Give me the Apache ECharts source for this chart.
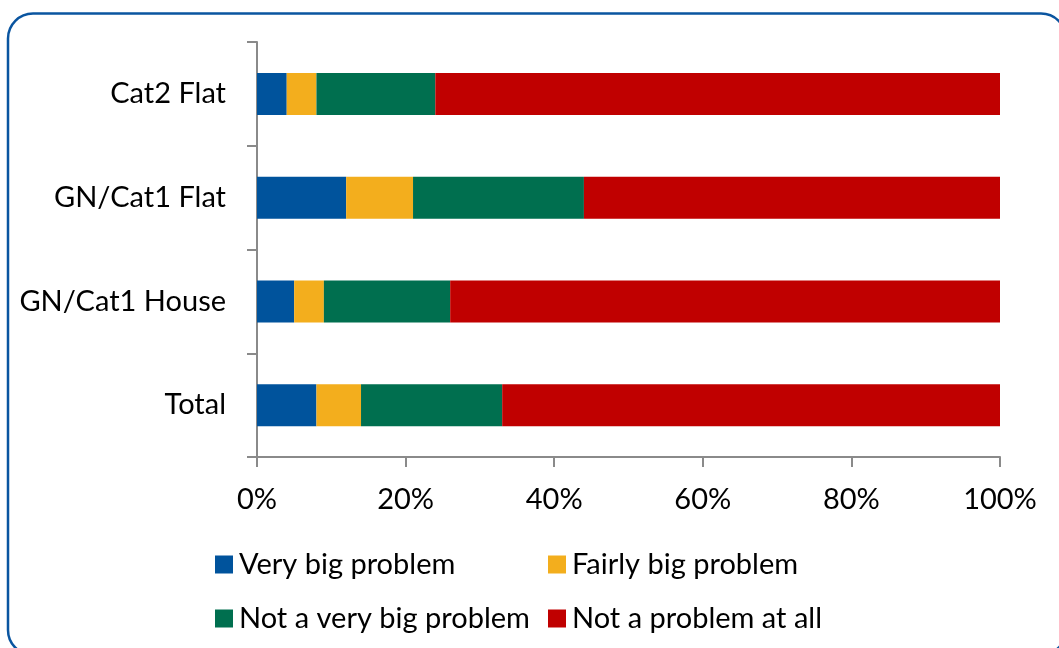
<!DOCTYPE html>
<html>
<head>
<meta charset="utf-8">
<script src="https://cdn.jsdelivr.net/npm/echarts@6/dist/echarts.min.js"></script>
<style>
  html, body { margin: 0; padding: 0; background: #ffffff; }
  #chart { width: 1059px; height: 648px; }
</style>
</head>
<body>
<div id="chart"></div>
<script>
// Survey responses, percent of each group (stacked to 100%)
const categories = ['Total', 'GN/Cat1 House', 'GN/Cat1 Flat', 'Cat2 Flat'];
const seriesNames = ['Very big problem', 'Fairly big problem', 'Not a very big problem', 'Not a problem at all'];
const veryBig = [8, 5, 12, 4];
const fairlyBig = [6, 4, 9, 4];
const notVeryBig = [19, 17, 23, 16];
const notAtAll = [67, 74, 56, 76];
const xTickLabels = ['0%', '20%', '40%', '60%', '80%', '100%'];

const colors = ['#00539C', '#F3AE1D', '#006F4F', '#C00000'];
const values = [veryBig, fairlyBig, notVeryBig, notAtAll];
const FONT = 'Lato';
const FS = 29;
const axisGray = '#8a8a8a';

const chart = echarts.init(document.getElementById('chart'), null, { renderer: 'canvas' });

// legend laid out as a 2 x 2 block
const legendPos = [
  { left: 215, top: 550 },
  { left: 548, top: 550 },
  { left: 215, top: 604 },
  { left: 548, top: 604 }
];

const option = {
  animation: false,
  backgroundColor: '#ffffff',
  textStyle: { fontFamily: FONT },
  graphic: [{
    type: 'rect',
    shape: { x: 8, y: 13.5, width: 1058, height: 641.5, r: 25 },
    style: { fill: 'none', stroke: '#0A55A0', lineWidth: 2.5 },
    silent: true,
    z: 0
  }],
  grid: { left: 257, right: 59, top: 42, bottom: 191, containLabel: false },
  xAxis: {
    type: 'value',
    min: 0,
    max: 100,
    interval: 20,
    splitLine: { show: false },
    axisLine: { show: true, lineStyle: { color: axisGray, width: 2 } },
    axisTick: { show: true, length: 10, lineStyle: { color: axisGray, width: 2 } },
    axisLabel: {
      margin: 28,
      color: '#000000',
      fontFamily: FONT,
      fontSize: FS,
      formatter: function (v) { return xTickLabels[Math.round(v / 20)]; }
    }
  },
  yAxis: {
    type: 'category',
    data: categories,
    axisLine: { show: true, lineStyle: { color: axisGray, width: 2 } },
    axisTick: { show: true, length: 10, lineStyle: { color: axisGray, width: 2 } },
    axisLabel: { margin: 31, color: '#000000', fontFamily: FONT, fontSize: FS }
  },
  legend: seriesNames.map(function (name, i) {
    return {
      data: [name],
      left: legendPos[i].left,
      top: legendPos[i].top,
      orient: 'horizontal',
      icon: 'rect',
      itemWidth: 18,
      itemHeight: 18,
      itemGap: 0,
      padding: 0,
      selectedMode: false,
      textStyle: { color: '#000000', fontFamily: FONT, fontSize: FS, padding: [0, 0, 0, 1] }
    };
  }),
  series: seriesNames.map(function (name, i) {
    return {
      name: name,
      type: 'bar',
      stack: 'total',
      barWidth: 42,
      data: values[i],
      itemStyle: { color: colors[i] },
      emphasis: { disabled: true }
    };
  })
};

chart.setOption(option);
</script>
</body>
</html>
